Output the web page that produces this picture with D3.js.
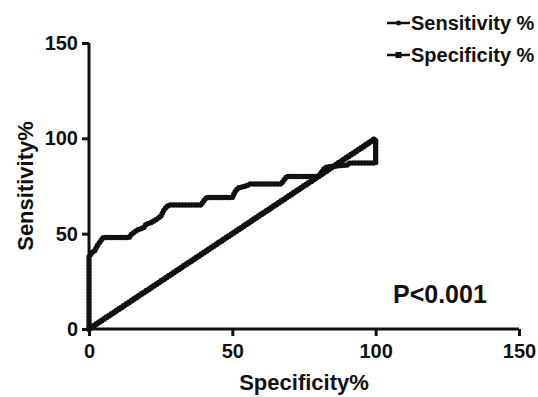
<!DOCTYPE html>
<html>
<head>
<meta charset="utf-8">
<script src="https://cdn.jsdelivr.net/npm/d3@7"></script>
<style>
  body { margin: 0; background: #fff; }
  svg text { font-family: "Liberation Sans", Arial, sans-serif; font-weight: bold; fill: #111; }
</style>
</head>
<body>
<div id="chart"></div>
<script>
// ROC curve, x = 100 - specificity, y = sensitivity
const rocX = [0, 0, 1, 2, 3, 4, 5, 14, 15, 17, 19, 20, 22, 24, 25, 26, 27, 28, 39, 40, 41, 50, 51, 52, 55, 56, 67, 68, 69, 80, 81, 82, 83, 90, 91, 100, 100];
const rocY = [0, 38, 40, 41, 44, 46, 48, 48, 50, 52, 53, 55, 56, 58, 59, 62, 64, 65, 65, 67, 69, 69, 72, 74, 75, 76, 76, 78, 80, 80, 82, 84, 85, 86, 87, 87, 100];
// reference line
const refX = [0, 100];
const refY = [0, 100];
const seriesNames = ["Sensitivity %", "Specificity %"];
const tickValues = [0, 50, 100, 150];
const pLabel = "P<0.001";

const width = 538;
const height = 397;
const margin = { left: 89, right: 19, top: 43, bottom: 68 };

const svg = d3.select("#chart")
    .append("svg")
    .attr("width", width)
    .attr("height", height);

const x = d3.scaleLinear().domain([0, 150]).range([margin.left, width - margin.right]);
const y = d3.scaleLinear().domain([0, 150]).range([height - margin.bottom, margin.top]);

// axes
const xAxis = svg.append("g")
    .attr("transform", "translate(0," + y(0) + ")")
    .call(d3.axisBottom(x).tickValues(tickValues).tickSize(7).tickPadding(8).tickSizeOuter(0));
const yAxis = svg.append("g")
    .attr("transform", "translate(" + x(0) + ",0)")
    .call(d3.axisLeft(y).tickValues(tickValues).tickSize(7).tickPadding(4).tickSizeOuter(0));

[xAxis, yAxis].forEach(a => {
    a.select(".domain").attr("stroke", "#111").attr("stroke-width", 3);
    a.selectAll(".tick line").attr("stroke", "#111").attr("stroke-width", 3);
    a.selectAll(".tick text").style("font-size", "20px").attr("fill", "#111");
});
xAxis.select(".domain").attr("d", "M" + (x(0) - 1.5) + ",0H" + x(150));
yAxis.select(".domain").attr("d", "M0," + (y(0) + 1.5) + "V" + y(150));

const line = d3.line()
    .x(d => x(d[0]))
    .y(d => y(d[1]));

function drawSeries(xs, ys, w) {
    const pts = xs.map((v, i) => [v, ys[i]]);
    svg.append("path")
        .attr("d", line(pts))
        .attr("fill", "none")
        .attr("stroke", "#111")
        .attr("stroke-width", w - 1.5);
    // beaded marker look
    svg.append("path")
        .attr("d", line(pts))
        .attr("fill", "none")
        .attr("stroke", "#111")
        .attr("stroke-width", w)
        .attr("stroke-linecap", "round")
        .attr("stroke-dasharray", "0,3");
}

drawSeries(refX, refY, 6);
drawSeries(rocX, rocY, 5.5);

// legend
const legend = svg.append("g");
const legendY = [23, 55];
seriesNames.forEach((name, i) => {
    const g = legend.append("g").attr("transform", "translate(387," + legendY[i] + ")");
    g.append("line")
        .attr("x1", 0).attr("x2", 23)
        .attr("stroke", "#111").attr("stroke-width", 2.5);
    if (i === 0) {
        g.append("circle").attr("cx", 11.5).attr("r", 2.5).attr("fill", "#111");
    } else {
        g.append("rect").attr("x", 8.5).attr("y", -3).attr("width", 6).attr("height", 6).attr("fill", "#111");
    }
    g.append("text")
        .attr("x", 24)
        .attr("dy", "0.35em")
        .style("font-size", "20px")
        .text(name);
});

// axis titles
svg.append("text")
    .attr("x", (x(0) + x(150)) / 2)
    .attr("y", 390)
    .attr("text-anchor", "middle")
    .style("font-size", "22px")
    .text("Specificity%");

svg.append("text")
    .attr("transform", "translate(33," + ((y(0) + y(150)) / 2) + ") rotate(-90)")
    .attr("text-anchor", "middle")
    .style("font-size", "22px")
    .text("Sensitivity%");

svg.append("text")
    .attr("x", 393)
    .attr("y", 303)
    .style("font-size", "25px")
    .text(pLabel);
</script>
</body>
</html>
